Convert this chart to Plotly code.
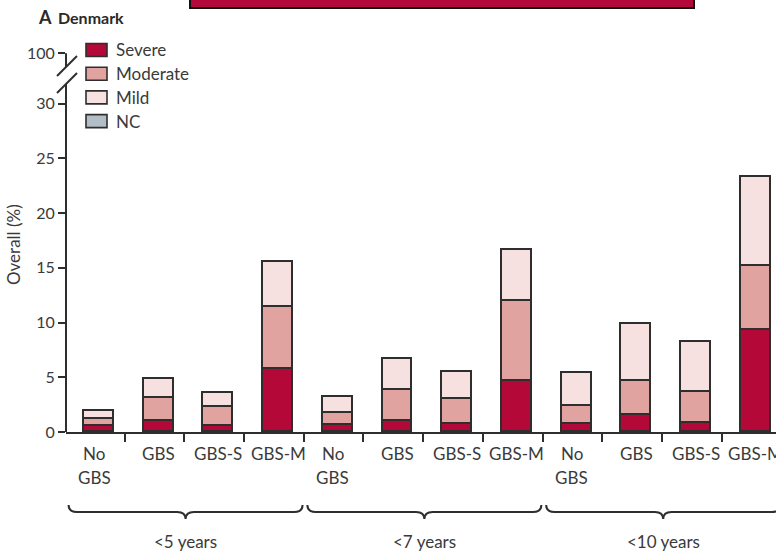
import plotly.graph_objects as go

# ---------------- data ----------------
groups = ["<5 years", "<7 years", "<10 years"]
subgroups = ["No GBS", "GBS", "GBS-S", "GBS-M"]
series_names = ["Severe", "Moderate", "Mild", "NC"]
severe = [0.52, 1.04, 0.59, 5.75, 0.61, 1.04, 0.73, 4.68, 0.73, 1.53, 0.83, 9.33]
moderate = [0.67, 2.08, 1.65, 5.66, 1.11, 2.81, 2.30, 7.28, 1.66, 3.12, 2.78, 5.84]
mild = [0.74, 1.74, 1.34, 4.16, 1.49, 2.79, 2.45, 4.64, 2.97, 5.23, 4.62, 8.13]
ytick_vals = [0, 5, 10, 15, 20, 25, 30, 34.6]
ytick_text = ["0", "5", "10", "15", "20", "25", "30", "100"]

# ---------------- style ----------------
colors = ["#b30838", "#e0a39f", "#f7e0e0", "#b2bdc6"]
edge = "#2e2e2e"
txt = "#3a3a3a"
FONT = "Lato"
W, H = 776, 552
L, R, T, B = 66, 0, 38, 120
PW, PH = W - L - R, H - T - B


def px(x):
    return (x - L) / PW


def py(y):
    return (H - B - y) / PH


xs = list(range(len(severe)))
fig = go.Figure()
for vals, name, col in zip([severe, moderate, mild], series_names, colors):
    fig.add_trace(go.Bar(
        x=xs, y=vals, name=name, width=0.5,
        marker=dict(color=col, line=dict(color=edge, width=1.6)),
        showlegend=False, hoverinfo="skip",
    ))

shapes = []
annotations = []

# y axis line with break
shapes.append(dict(type="line", xref="paper", yref="y", x0=0, x1=0, y0=0, y1=31.8,
                   line=dict(color=edge, width=2)))
shapes.append(dict(type="line", xref="paper", yref="y", x0=0, x1=0, y0=33.35, y1=34.6,
                   line=dict(color=edge, width=2)))
for (x0, y0, x1, y1) in [(57, 76, 77, 56), (57, 93, 77, 73)]:
    shapes.append(dict(type="line", xref="paper", yref="paper",
                       x0=px(x0), y0=py(y0), x1=px(x1), y1=py(y1),
                       line=dict(color=edge, width=2)))

# category labels
n_sub = len(subgroups)
for i in xs:
    lab = subgroups[i % n_sub]
    lines = lab.split(" ")
    for j, ln in enumerate(lines):
        annotations.append(dict(
            x=i, xref="x", y=py(453 + 24 * j), yref="paper", text=ln,
            showarrow=False, xanchor="center", yanchor="middle",
            xshift=-5 if len(lines) > 1 else 0,
            font=dict(family=FONT, size=17, color=txt)))

# group braces and labels
ya, yb, yc = py(505), py(512), py(519)
d = 0.14
for g, gname in enumerate(groups):
    x0 = g * n_sub - 0.51
    x1 = g * n_sub + n_sub - 0.59
    xc = (x0 + x1) / 2
    path = (f"M {x0},{ya} Q {x0},{yb} {x0 + d},{yb} L {xc - d},{yb} "
            f"Q {xc},{yb} {xc},{yc} Q {xc},{yb} {xc + d},{yb} "
            f"L {x1 - d},{yb} Q {x1},{yb} {x1},{ya}")
    shapes.append(dict(type="path", xref="x", yref="paper", path=path,
                       line=dict(color=edge, width=2)))
    annotations.append(dict(
        x=xc, xref="x", y=py(541), yref="paper", text=gname, showarrow=False,
        xanchor="center", yanchor="middle",
        font=dict(family=FONT, size=17, color=txt)))

# manual legend
for i, (name, col) in enumerate(zip(series_names, colors)):
    cy = 50 + 23.7 * i
    shapes.append(dict(type="rect", xref="paper", yref="paper",
                       x0=px(86), x1=px(107), y0=py(cy + 6.5), y1=py(cy - 6.5),
                       fillcolor=col, line=dict(color=edge, width=1.6)))
    annotations.append(dict(
        x=px(114), xref="paper", y=py(cy), yref="paper", text=name,
        showarrow=False, xanchor="left", yanchor="middle",
        font=dict(family=FONT, size=17, color=txt)))

# title
annotations.append(dict(x=px(36), xref="paper", y=py(17), yref="paper", text="<b>A</b>",
                        showarrow=False, xanchor="left", yanchor="middle",
                        font=dict(family=FONT, size=18, color="#2a2a2a")))
annotations.append(dict(x=px(56), xref="paper", y=py(17), yref="paper", text="<b>Denmark</b>",
                        showarrow=False, xanchor="left", yanchor="middle",
                        font=dict(family=FONT, size=16, color="#2a2a2a")))

# y title
annotations.append(dict(x=px(13), xref="paper", y=py(245), yref="paper", text="Overall (%)",
                        textangle=-90, showarrow=False, xanchor="center", yanchor="middle",
                        font=dict(family=FONT, size=17, color=txt)))

# cropped red banner at top
shapes.append(dict(type="rect", xref="paper", yref="paper",
                   x0=px(190), x1=px(694), y0=py(8), y1=py(-3),
                   fillcolor="#b3083a", line=dict(color="#111", width=2)))

fig.update_layout(
    width=W, height=H, margin=dict(l=L, r=R, t=T, b=B, pad=0),
    barmode="stack", bargap=0,
    paper_bgcolor="white", plot_bgcolor="white",
    font=dict(family=FONT, size=16, color=txt),
    showlegend=False,
    shapes=shapes, annotations=annotations,
    xaxis=dict(range=[-0.553, 11.34], showline=True, linecolor=edge, linewidth=2,
               tickvals=[k - 0.57 for k in range(len(xs) + 1)],
               ticktext=[""] * (len(xs) + 1),
               ticks="outside", ticklen=8, tickwidth=2, tickcolor=edge,
               showgrid=False, zeroline=False, fixedrange=True),
    yaxis=dict(range=[0, 36], showline=False, tickvals=ytick_vals, ticktext=ytick_text,
               ticks="outside", ticklen=7, tickwidth=2, tickcolor=edge,
               tickfont=dict(family=FONT, size=16, color=txt),
               showgrid=False, zeroline=False, fixedrange=True),
)

fig.write_html("out.html")
